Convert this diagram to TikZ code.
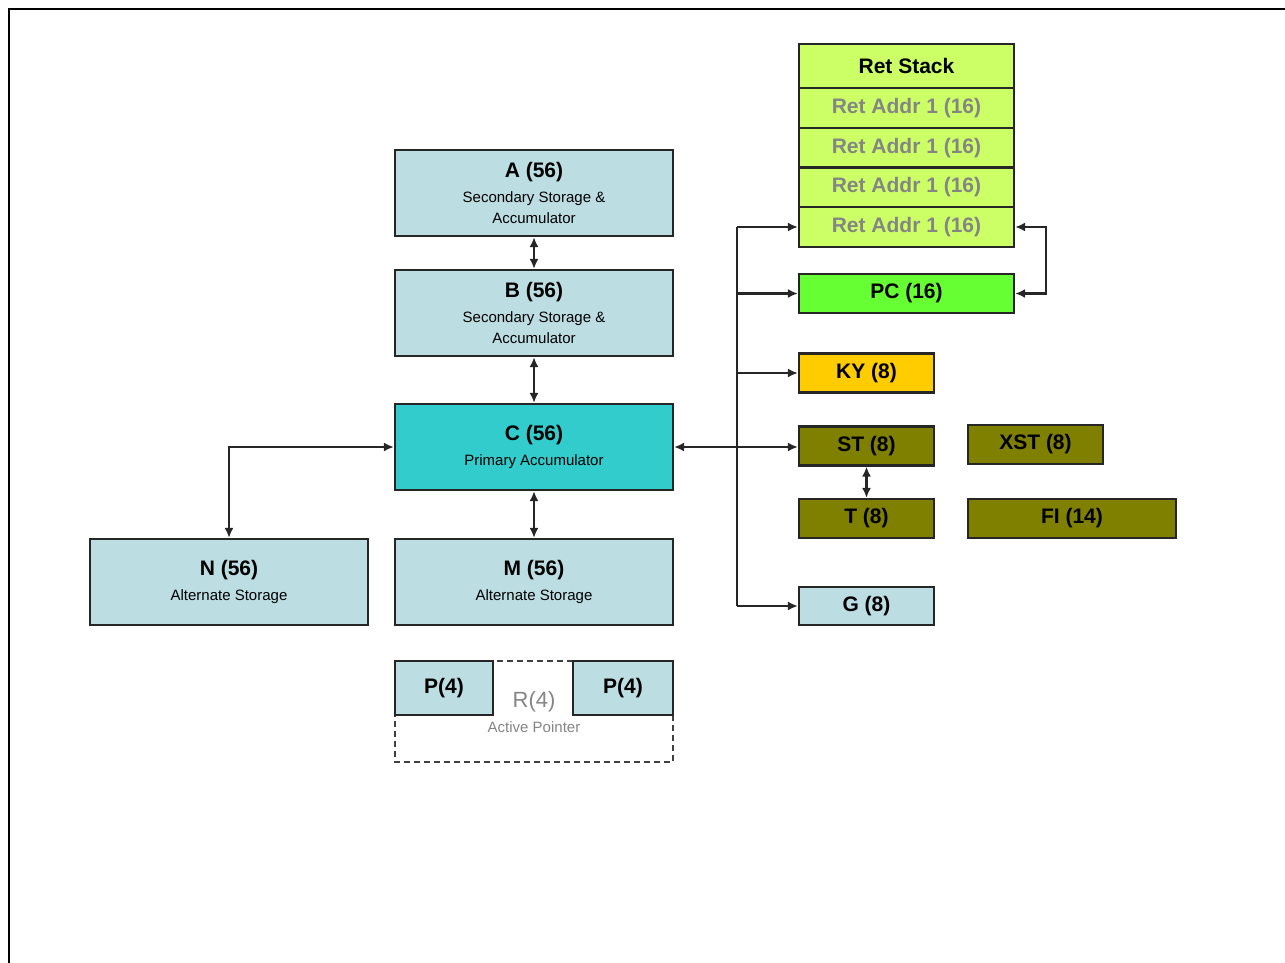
\documentclass[tikz,border=0pt]{standalone}
\usepackage{fontspec}
\setmainfont{Liberation Sans}
\usetikzlibrary{arrows.meta}
\definecolor{lb}{HTML}{BCDEE3}
\definecolor{teal2}{HTML}{33CCCC}
\definecolor{lime}{HTML}{CCFF66}
\definecolor{pcg}{HTML}{66FF33}
\definecolor{kyc}{HTML}{FFCC00}
\definecolor{olv}{HTML}{808000}
\definecolor{gtxt}{HTML}{858585}
\newcommand\rtitle{\fontsize{21}{24}\selectfont\bfseries}
\newcommand\rsub{\fontsize{15}{21}\selectfont}
\begin{document}
\begin{tikzpicture}[x=1pt,y=-1pt,
  box/.style={draw=black!85, line width=2.2pt, inner sep=0pt, align=center},
  bigbox/.style={box, fill=lb, minimum width=278pt, minimum height=86pt, font=\rsub},
  regbox/.style={box, minimum width=135pt, minimum height=39pt, font=\rtitle},
  rsrow/.style={box, fill=lime, minimum width=215pt, minimum height=40pt, font=\rtitle, text=gtxt},
  conn/.style={line width=2.2pt, draw=black!85},
  biarrow/.style={conn, {Latex[length=10pt,width=9pt]}-{Latex[length=10pt,width=9pt]}},
  onearrow/.style={conn, -{Latex[length=10pt,width=9pt]}}]
\useasboundingbox (0,0) rectangle (1285,963);
% frame
\draw[line width=2.8pt] (9,963) -- (9,9) -- (1285,9);
% left column
\node[bigbox] (A) at (534,193) {{\rtitle A (56)}\\[4pt]Secondary Storage \&\\Accumulator};
\node[bigbox] (B) at (534,313) {{\rtitle B (56)}\\[4pt]Secondary Storage \&\\Accumulator};
\node[bigbox, fill=teal2] (C) at (534,447) {{\rtitle C (56)}\\[4pt]Primary Accumulator};
\node[bigbox] (N) at (229,582) {{\rtitle N (56)}\\[4pt]Alternate Storage};
\node[bigbox] (M) at (534,582) {{\rtitle M (56)}\\[4pt]Alternate Storage};
% active pointer
\draw[conn, dashed, dash pattern=on 6pt off 4pt, draw=black!75] (395,661) rectangle (673,762);
\node[box, fill=lb, minimum width=98pt, minimum height=54pt, font=\rtitle] (P1) at (444,688) {P(4)};
\node[box, fill=lb, minimum width=100pt, minimum height=54pt, font=\rtitle] (P2) at (623,688) {P(4)};
\node[font=\fontsize{22}{24}\selectfont, text=gtxt] (R) at (534,702) {R(4)};
\node[font=\rsub, text=gtxt] (AP) at (534,727) {Active Pointer};
% ret stack
\node[box, fill=lime, minimum width=215pt, minimum height=44pt, font=\rtitle] (rs0) at (906.5,66) {Ret Stack};
\node[rsrow] (rs1) at (906.5,108) {Ret Addr 1 (16)};
\node[rsrow] (rs2) at (906.5,148) {Ret Addr 1 (16)};
\node[rsrow] (rs3) at (906.5,187.5) {Ret Addr 1 (16)};
\node[rsrow] (rs4) at (906.5,227) {Ret Addr 1 (16)};
\node[box, fill=pcg, minimum width=215pt, minimum height=39pt, font=\rtitle] (PC) at (906.5,293.5) {PC (16)};
\node[regbox, fill=kyc] (KY) at (866.5,373) {KY (8)};
\node[regbox, fill=olv] (ST) at (866.5,446) {ST (8)};
\node[regbox, fill=olv] (XST) at (1035.5,444.5) {XST (8)};
\node[regbox, fill=olv] (T) at (866.5,518.5) {T (8)};
\node[regbox, fill=olv, minimum width=208pt] (FI) at (1072,518.5) {FI (14)};
\node[regbox, fill=lb, minimum height=38pt] (G) at (866.5,606) {G (8)};
% connectors
\draw[biarrow] (A.south) -- (B.north);
\draw[biarrow] (B.south) -- (C.north);
\draw[biarrow] (C.south) -- (M.north);
\draw[biarrow] (C.west) -| (N.north);
\draw[biarrow] (C.east) -- (C.east -| ST.west);
\draw[biarrow] (ST.south) -- (T.north);
\coordinate (bus) at (737,0);
\draw[conn] (bus |- rs4.west) -- (bus |- G.west);
\draw[onearrow] (bus |- rs4.west) -- (rs4.west);
\draw[onearrow] (bus |- PC.west) -- (PC.west);
\draw[onearrow] (bus |- KY.west) -- (KY.west);
\draw[onearrow] (bus |- G.west) -- (G.west);
\coordinate (loop) at (1046,0);
\draw[biarrow] (rs4.east) -- (loop |- rs4.east) -- (loop |- PC.east) -- (PC.east);
\end{tikzpicture}
\end{document}
